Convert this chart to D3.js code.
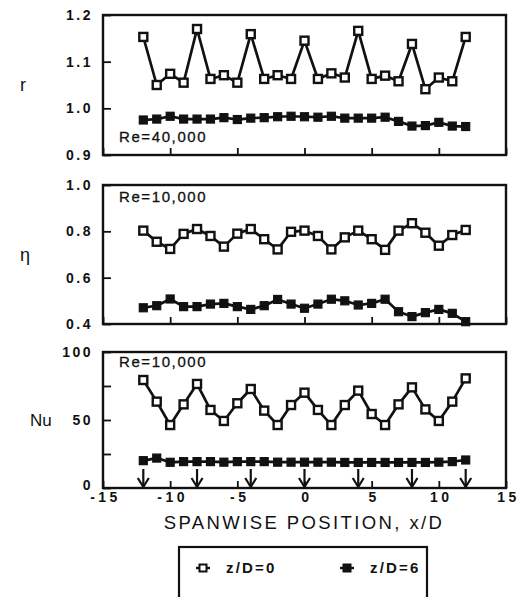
<!DOCTYPE html>
<html>
<head>
<meta charset="utf-8">
<script src="https://cdn.jsdelivr.net/npm/d3@7"></script>
<style>
  body { margin: 0; background: #fff; }
  svg { display: block; }
  .tick text { font-family: "Liberation Sans", Arial, sans-serif; font-weight: bold; font-size: 14px; fill: #111; }
</style>
</head>
<body>
<div id="chart"></div>
<script>
// spanwise positions, x/D
var positions = d3.range(-12, 13);  // -12 .. 12 step 1
var arrowX = [-12, -8, -4, 0, 4, 8, 12];

// r, Re=40,000
var rOpen = [1.153, 1.050, 1.074, 1.055, 1.170, 1.063, 1.071, 1.055, 1.159, 1.063, 1.071, 1.063,
             1.145, 1.063, 1.075, 1.066, 1.166, 1.063, 1.070, 1.058, 1.138, 1.041, 1.066, 1.058, 1.153];
var rFilled = [0.975, 0.977, 0.983, 0.977, 0.977, 0.977, 0.980, 0.976, 0.979, 0.980, 0.982, 0.983,
               0.982, 0.981, 0.983, 0.979, 0.979, 0.979, 0.981, 0.972, 0.962, 0.963, 0.970, 0.962, 0.961];

// eta, Re=10,000
var etaOpen = [0.803, 0.755, 0.724, 0.789, 0.810, 0.780, 0.734, 0.790, 0.810, 0.766, 0.722, 0.798,
               0.803, 0.780, 0.722, 0.774, 0.803, 0.766, 0.720, 0.803, 0.835, 0.794, 0.738, 0.784, 0.806];
var etaFilled = [0.470, 0.479, 0.508, 0.475, 0.475, 0.486, 0.489, 0.475, 0.463, 0.479, 0.506, 0.486,
                 0.468, 0.486, 0.507, 0.500, 0.482, 0.489, 0.507, 0.453, 0.432, 0.449, 0.463, 0.446, 0.410];

// Nu, Re=10,000
var nuOpen = [79.4, 63.5, 46.3, 61.5, 76.5, 57.4, 49.3, 62.3, 72.8, 56.9, 46.3, 61.0,
              70.1, 57.4, 46.3, 61.0, 71.6, 54.4, 46.3, 61.5, 74.0, 57.8, 49.3, 63.5, 80.6];
var nuFilled = [20.1, 22.0, 18.9, 19.4, 19.4, 19.4, 19.0, 19.4, 19.4, 19.4, 19.0, 19.0,
                19.0, 19.0, 19.0, 18.8, 18.8, 18.8, 18.8, 18.8, 18.8, 18.8, 19.0, 19.4, 20.6];

var seriesNames = ["z/D=0", "z/D=6"];

var W = 527, H = 597;
var svg = d3.select("#chart").append("svg")
  .attr("width", W).attr("height", H);

var x = d3.scaleLinear().domain([-15, 15]).range([103, 506]);

var panels = [
  { label: "r",   labelX: 20, domain: [0.9, 1.2], range: [155, 15],
    ticks: [0.9, 1.0, 1.1, 1.2], labels: [0.9, 1.0, 1.1, 1.2], fmt: d3.format(".1f"),
    open: rOpen, filled: rFilled, note: "Re=40,000", noteY: 137 },
  { label: "\u03b7", labelX: 20, domain: [0.4, 1.0], range: [324, 185],
    ticks: [0.4, 0.6, 0.8, 1.0], labels: [0.4, 0.6, 0.8, 1.0], fmt: d3.format(".1f"),
    open: etaOpen, filled: etaFilled, note: "Re=10,000", noteY: 197 },
  { label: "Nu",  labelX: 30, domain: [0, 100], range: [488, 352],
    ticks: [0, 25, 50, 75, 100], labels: [0, 50, 100], fmt: d3.format("d"),
    open: nuOpen, filled: nuFilled, note: "Re=10,000", noteY: 362, arrows: true }
];

var line = function(y){
  return d3.line().x(function(d){ return x(d.x) }).y(function(d){ return y(d.v) });
};

panels.forEach(function(p, pi){
  var y = d3.scaleLinear().domain(p.domain).range(p.range);
  var g = svg.append("g");
  var top = p.range[1], bottom = p.range[0];

  // y axis (ticks pointing inward)
  var yAxis = d3.axisLeft(y).tickValues(p.ticks).tickSize(-8).tickPadding(10)
    .tickFormat(function(d){ return p.labels.indexOf(d) !== -1 ? p.fmt(d) : "" });
  var ya = g.append("g").attr("transform", "translate(" + x.range()[0] + ",0)").call(yAxis);
  ya.select(".domain").remove();
  ya.selectAll("line").attr("stroke", "#111").attr("stroke-width", 1.8);
  ya.selectAll("text").attr("letter-spacing", "2.5px");
  if (pi === 2) ya.selectAll("text").filter(function(d){ return d === 0 }).attr("dy", "0.1em");

  // x axis (ticks pointing up into the plot)
  var xAxis = d3.axisBottom(x).tickValues([-15, -10, -5, 0, 5, 10, 15]).tickSize(-7).tickPadding(4)
    .tickFormat(function(d){ return pi === 2 ? (d < 0 ? "-" + Math.abs(d) : String(d)) : "" });
  var xa = g.append("g").attr("transform", "translate(0," + bottom + ")").call(xAxis);
  xa.select(".domain").remove();
  xa.selectAll("line").attr("stroke", "#111").attr("stroke-width", 1.8);
  xa.selectAll("text").attr("letter-spacing", "3.5px").attr("dx", "2px");

  // frame
  g.append("rect")
    .attr("x", x.range()[0]).attr("y", top)
    .attr("width", x.range()[1] - x.range()[0]).attr("height", bottom - top)
    .attr("fill", "none").attr("stroke", "#111").attr("stroke-width", 2.4);

  // axis title
  g.append("text")
    .attr("x", p.labelX).attr("y", (top + bottom) / 2)
    .attr("dy", "0.35em")
    .attr("font-family", "Liberation Sans, Arial, sans-serif")
    .attr("font-size", pi === 2 ? 17 : 18)
    .attr("fill", "#111")
    .text(p.label);

  // Re note
  g.append("text")
    .attr("x", 119).attr("y", p.noteY).attr("dy", "0.35em")
    .attr("font-family", "Liberation Sans, Arial, sans-serif")
    .attr("font-size", 15).attr("letter-spacing", "1.6px")
    .attr("stroke", "#111").attr("stroke-width", 0.3)
    .attr("fill", "#111")
    .text(p.note);

  var openData = positions.map(function(px, i){ return { x: px, v: p.open[i] } });
  var filledData = positions.map(function(px, i){ return { x: px, v: p.filled[i] } });

  // arrows (jet hole locations)
  if (p.arrows) {
    var ag = g.append("g").attr("stroke", "#111").attr("stroke-width", 2.2).attr("fill", "none");
    arrowX.forEach(function(ax){
      var cx = x(ax);
      ag.append("line").attr("x1", cx).attr("x2", cx).attr("y1", 469).attr("y2", 487);
      ag.append("path").attr("d", "M" + (cx - 5.5) + ",478L" + cx + ",487L" + (cx + 5.5) + ",478");
    });
  }

  [filledData, openData].forEach(function(data, k){
    var isOpen = data === openData;
    g.append("path").datum(data)
      .attr("d", line(y))
      .attr("fill", "none").attr("stroke", "#111").attr("stroke-width", 2.7)
      .attr("stroke-linejoin", "round");
    g.selectAll(".m" + k).data(data).enter().append("rect")
      .attr("class", "m" + k)
      .attr("x", function(d){ return x(d.x) - 4 })
      .attr("y", function(d){ return y(d.v) - 4 })
      .attr("width", 8).attr("height", 8)
      .attr("fill", isOpen ? "#fff" : "#111")
      .attr("stroke", "#111").attr("stroke-width", isOpen ? 2.4 : 1.2);
  });
});

// x axis title
svg.append("text")
  .attr("x", 304).attr("y", 523).attr("dy", "0.35em")
  .attr("text-anchor", "middle")
  .attr("font-family", "Liberation Sans, Arial, sans-serif")
  .attr("font-size", 18.5).attr("letter-spacing", "2.4px")
  .attr("fill", "#111")
  .text("SPANWISE POSITION, x/D");

// legend
var lg = svg.append("g");
lg.append("rect").attr("x", 179).attr("y", 547).attr("width", 248).attr("height", 60)
  .attr("fill", "none").attr("stroke", "#111").attr("stroke-width", 2.2);
var legendItems = [
  { name: seriesNames[0], x0: 196, open: true },
  { name: seriesNames[1], x0: 340, open: false }
];
legendItems.forEach(function(it){
  var ly = 568;
  lg.append("line").attr("x1", it.x0).attr("x2", it.x0 + 14).attr("y1", ly).attr("y2", ly)
    .attr("stroke", "#111").attr("stroke-width", 2.4);
  lg.append("rect").attr("x", it.x0 + 3.5).attr("y", ly - 3.5).attr("width", 7).attr("height", 7)
    .attr("fill", it.open ? "#fff" : "#111").attr("stroke", "#111").attr("stroke-width", 2);
  lg.append("text").attr("x", it.x0 + 30).attr("y", ly).attr("dy", "0.35em")
    .attr("font-family", "Liberation Sans, Arial, sans-serif")
    .attr("font-size", 15).attr("font-weight", "bold").attr("letter-spacing", "2.2px")
    .attr("fill", "#111")
    .text(it.name);
});
</script>
</body>
</html>
